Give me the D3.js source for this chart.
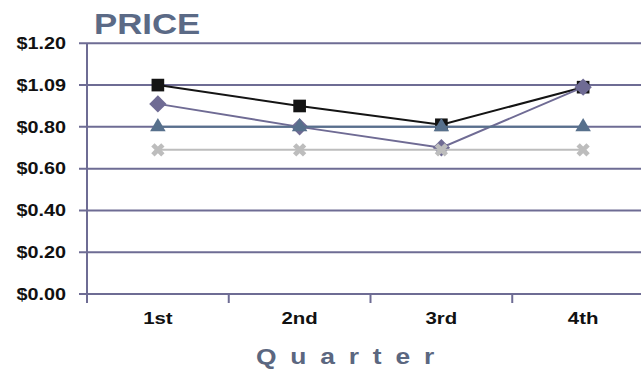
<!DOCTYPE html>
<html>
<head>
<meta charset="utf-8">
<script src="https://cdn.jsdelivr.net/npm/d3@7"></script>
<style>
  html, body { margin: 0; padding: 0; background: #fff; }
  svg { display: block; }
  text { font-family: "Liberation Sans", Arial, sans-serif; font-weight: bold; }
</style>
</head>
<body>
<svg id="chart" width="641" height="376"></svg>
<script>
// Quarterly price data
const quarters = ["1st", "2nd", "3rd", "4th"];
const squareSeries = [1.00, 0.90, 0.81, 0.99];
const diamondSeries = [0.91, 0.80, 0.70, 0.99];
const triangleSeries = [0.80, 0.80, 0.80, 0.80];
const crossSeries = [0.69, 0.69, 0.69, 0.69];
const yTickValues = [0, 0.2, 0.4, 0.6, 0.8, 1.0, 1.2];
const yTickLabels = ["$0.00", "$0.20", "$0.40", "$0.60", "$0.80", "$1.09", "$1.20"];

(function () {
  const W = 641;
  const plotLeft = 87, plotTop = 43.3, plotBottom = 294;
  const stretch = 1.2; // lettering is drawn slightly wide

  const svg = d3.select("#chart");

  const x = d3.scaleBand().domain(quarters).range([plotLeft, 654]);
  const y = d3.scaleLinear().domain([0, 1.2]).range([plotBottom, plotTop]);

  const gridColor = "#6e6c94";

  // horizontal gridlines (with a short tick to the left of the axis)
  svg.append("g").selectAll("line").data(yTickValues).join("line")
    .attr("x1", plotLeft - 8).attr("x2", W)
    .attr("y1", d => y(d)).attr("y2", d => y(d))
    .attr("stroke", gridColor).attr("stroke-width", 2);

  // vertical axis line
  svg.append("line")
    .attr("x1", plotLeft).attr("x2", plotLeft)
    .attr("y1", y(1.2)).attr("y2", plotBottom + 9)
    .attr("stroke", gridColor).attr("stroke-width", 2);

  // category boundary ticks
  svg.append("g").selectAll("line").data(quarters.slice(0, 3)).join("line")
    .attr("x1", d => x(d) + x.bandwidth()).attr("x2", d => x(d) + x.bandwidth())
    .attr("y1", plotBottom).attr("y2", plotBottom + 9)
    .attr("stroke", gridColor).attr("stroke-width", 2);

  // y tick labels
  svg.append("g").selectAll("text").data(yTickValues).join("text")
    .attr("transform", d => `translate(66,${y(d) + 5.8}) scale(${stretch},1)`)
    .attr("text-anchor", "end")
    .attr("font-size", 16.5)
    .attr("fill", "#111")
    .text((d, i) => yTickLabels[i]);

  // x tick labels
  svg.append("g").selectAll("text").data(quarters).join("text")
    .attr("transform", d => `translate(${x(d) + x.bandwidth() / 2},323.5) scale(${stretch},1)`)
    .attr("text-anchor", "middle")
    .attr("font-size", 17)
    .attr("fill", "#111")
    .text(d => d);

  // title
  svg.append("text")
    .attr("transform", `translate(94,34) scale(${stretch},1)`)
    .attr("font-size", 29)
    .attr("fill", "#5b6a86")
    .text("PRICE");

  // axis title
  svg.append("text")
    .attr("transform", `translate(352,364) scale(${stretch},1)`)
    .attr("text-anchor", "middle")
    .attr("font-size", 22)
    .attr("letter-spacing", 11.5)
    .attr("fill", "#5b6780")
    .text("Quarter");

  const cx = q => x(q) + x.bandwidth() / 2;
  const line = d3.line().x((d, i) => cx(quarters[i])).y(d => y(d));

  const series = [
    { values: squareSeries, color: "#141414", symbol: d3.symbolSquare, size: 160, rotate: 0 },
    { values: diamondSeries, color: "#6f6b94", symbol: d3.symbolSquare, size: 150, rotate: 45 },
    { values: triangleSeries, color: "#57708c", symbol: d3.symbolTriangle, size: 105, rotate: 0 },
    { values: crossSeries, color: "#bdbdbd", symbol: d3.symbolCross, size: 110, rotate: 45 }
  ];

  series.forEach(s => {
    const g = svg.append("g");
    g.append("path")
      .attr("d", line(s.values))
      .attr("fill", "none")
      .attr("stroke", s.color)
      .attr("stroke-width", 2);
    g.selectAll("path.mark").data(s.values).join("path")
      .attr("class", "mark")
      .attr("transform", (d, i) => `translate(${cx(quarters[i])},${y(d)}) rotate(${s.rotate})`)
      .attr("d", d3.symbol().type(s.symbol).size(s.size))
      .attr("fill", s.color);
  });
})();
</script>
</body>
</html>
